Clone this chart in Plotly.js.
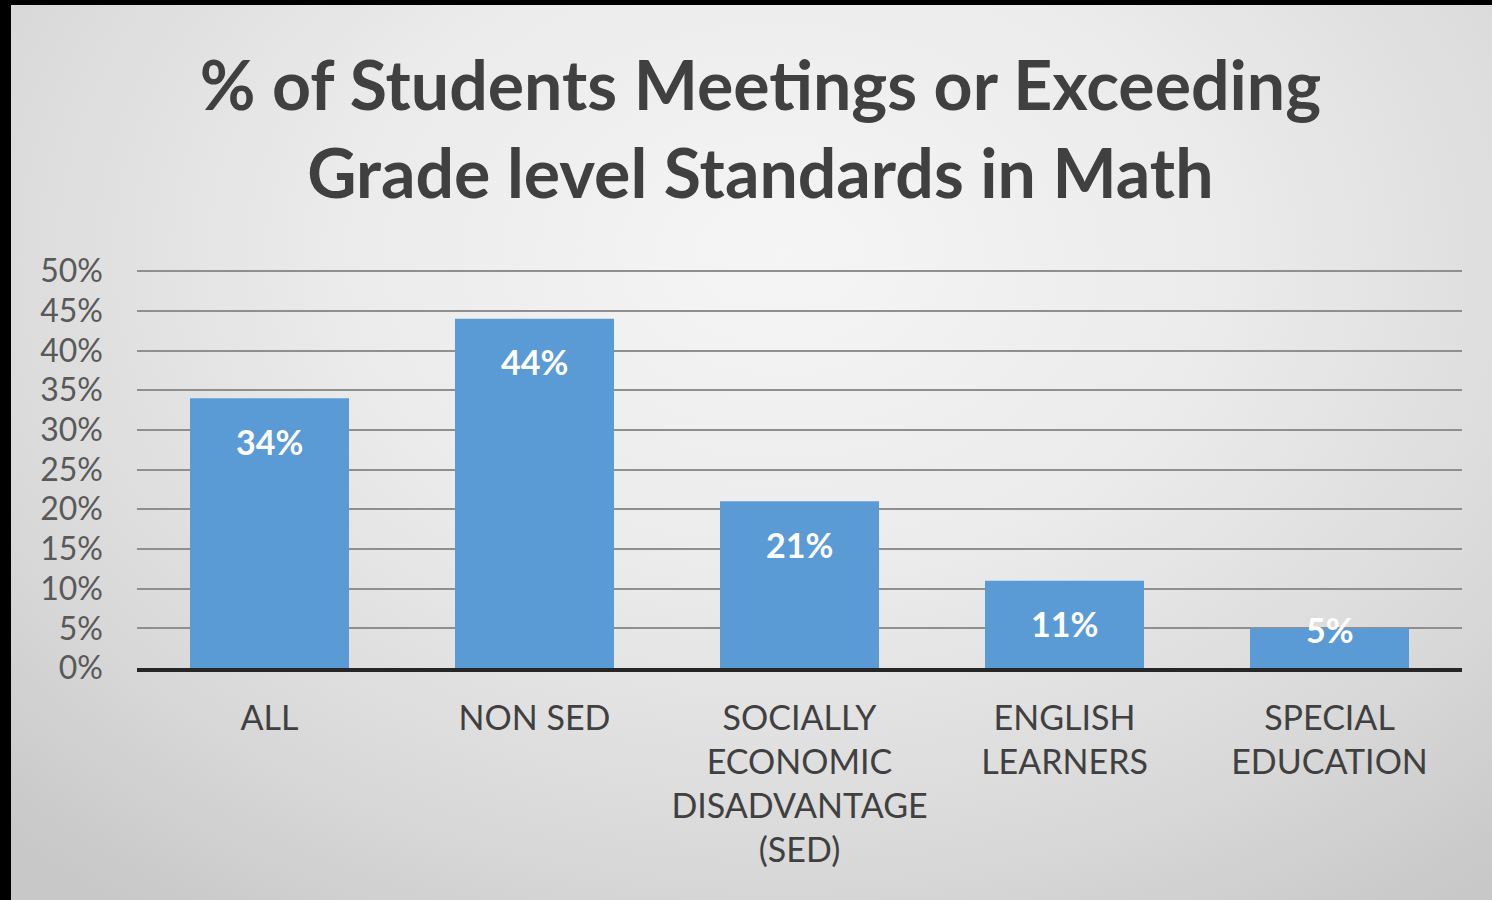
<!DOCTYPE html>
<html>
<head>
<meta charset="utf-8">
<script src="https://cdn.plot.ly/plotly-3.0.1.min.js"></script>
<style>
  html, body { margin: 0; padding: 0; background: #000; width: 1492px; height: 900px; overflow: hidden; }
  #chart {
    position: absolute; left: 11px; top: 5px; width: 1481px; height: 895px;
    background: radial-gradient(ellipse 75% 90% at 52% 28%, #f5f5f5 0%, #ebebeb 40%, #d9d9d9 75%, #c8c8c8 100%);
  }
</style>
</head>
<body>
<div id="chart"></div>
<script>
// === Data ===
const groups = [
  'ALL',
  'NON SED',
  'SOCIALLY<br>ECONOMIC<br>DISADVANTAGE<br>(SED)',
  'ENGLISH<br>LEARNERS',
  'SPECIAL<br>EDUCATION'
];
const percentMeeting = [34, 44, 21, 11, 5];
const yTicks = [0, 5, 10, 15, 20, 25, 30, 35, 40, 45, 50];
const yTickLabels = yTicks.map(t => t + '%');

const FONT = 'Lato, "Open Sans", sans-serif';

const trace = {
  x: groups,
  y: percentMeeting,
  type: 'bar',
  width: 0.6,
  marker: { color: '#5b9bd5' },
  hoverinfo: 'skip'
};

// data labels just below bar top (small bars keep the label at the top edge)
const labels = percentMeeting.map((v, i) => ({
  x: groups[i],
  y: v,
  xref: 'x',
  yref: 'y',
  text: '<b>' + v + '%</b>',
  showarrow: false,
  yanchor: 'middle',
  yshift: v >= 10 ? -43 : -1,
  font: { family: FONT, size: 34, color: '#ffffff' }
}));

const layout = {
  width: 1481,
  height: 895,
  paper_bgcolor: 'rgba(0,0,0,0)',
  plot_bgcolor: 'rgba(0,0,0,0)',
  margin: { l: 126, r: 30, t: 265, b: 232 },
  title: {
    text: '<b>% of Students Meetings or Exceeding<br>Grade level Standards in Math</b>',
    x: 0.506,
    xanchor: 'center',
    y: 0.883,
    yanchor: 'top',
    font: { family: FONT, size: 68, color: '#404040' }
  },
  xaxis: {
    type: 'category',
    showgrid: false,
    showline: true,
    linecolor: '#262626',
    linewidth: 4,
    ticks: '',
    ticklabelstandoff: 17,
    tickfont: { family: FONT, size: 34, color: '#404040' }
  },
  yaxis: {
    range: [0, 50.15],
    tickvals: yTicks,
    ticktext: yTickLabels,
    showgrid: true,
    gridcolor: '#8f8f8f',
    gridwidth: 2,
    zeroline: false,
    showline: false,
    ticks: '',
    ticklabelstandoff: 33,
    tickfont: { family: FONT, size: 32, color: '#595959' }
  },
  annotations: labels,
  showlegend: false
};

Plotly.newPlot('chart', [trace], layout, { displayModeBar: false, staticPlot: true });
</script>
</body>
</html>
